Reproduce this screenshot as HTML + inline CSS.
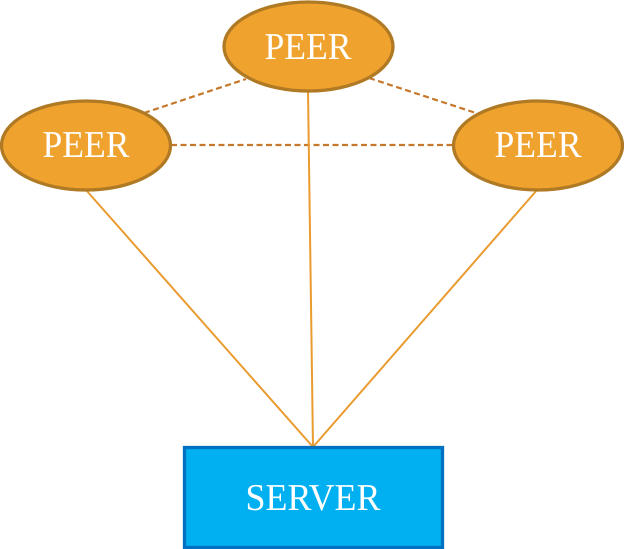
<!DOCTYPE html>
<html><head><meta charset="utf-8"><style>html,body{margin:0;padding:0;background:#fff}svg{display:block}text{font-family:"Liberation Serif",serif;font-weight:400;fill:#fff;text-anchor:middle;text-rendering:geometricPrecision}</style></head>
<body><svg width="624" height="549" viewBox="0 0 624 549" xmlns="http://www.w3.org/2000/svg">
<g stroke="#C5782B" stroke-width="2.200" stroke-dasharray="6 3.500" fill="none">
<line x1="144" y1="113" x2="246" y2="79"/>
<line x1="369" y1="78" x2="479" y2="114"/>
<line x1="171" y1="145" x2="453" y2="145"/>
</g>
<g stroke="#E99B2F" stroke-width="2" fill="none">
<line x1="86" y1="190" x2="313" y2="447"/>
<line x1="308" y1="91" x2="313" y2="447"/>
<line x1="537" y1="190" x2="313" y2="447"/>
</g>
<g fill="#F0A22E" stroke="#B07A25" stroke-width="3.300">
<ellipse cx="86" cy="145.500" rx="84.500" ry="44.500"/>
<ellipse cx="308.500" cy="46.500" rx="84.500" ry="44.500"/>
<ellipse cx="538" cy="145.500" rx="84.500" ry="44.500"/>
</g>
<rect x="184.500" y="447.500" width="258" height="100" fill="#00B0F0" stroke="#0070C0" stroke-width="3.300"/>
<text x="86" y="157" font-size="38" textLength="87" lengthAdjust="spacingAndGlyphs">PEER</text>
<text x="308" y="59" font-size="38" textLength="87" lengthAdjust="spacingAndGlyphs">PEER</text>
<text x="538" y="157" font-size="38" textLength="87" lengthAdjust="spacingAndGlyphs">PEER</text>
<text x="313" y="510" font-size="38" textLength="135" lengthAdjust="spacingAndGlyphs">SERVER</text>
</svg></body></html>
